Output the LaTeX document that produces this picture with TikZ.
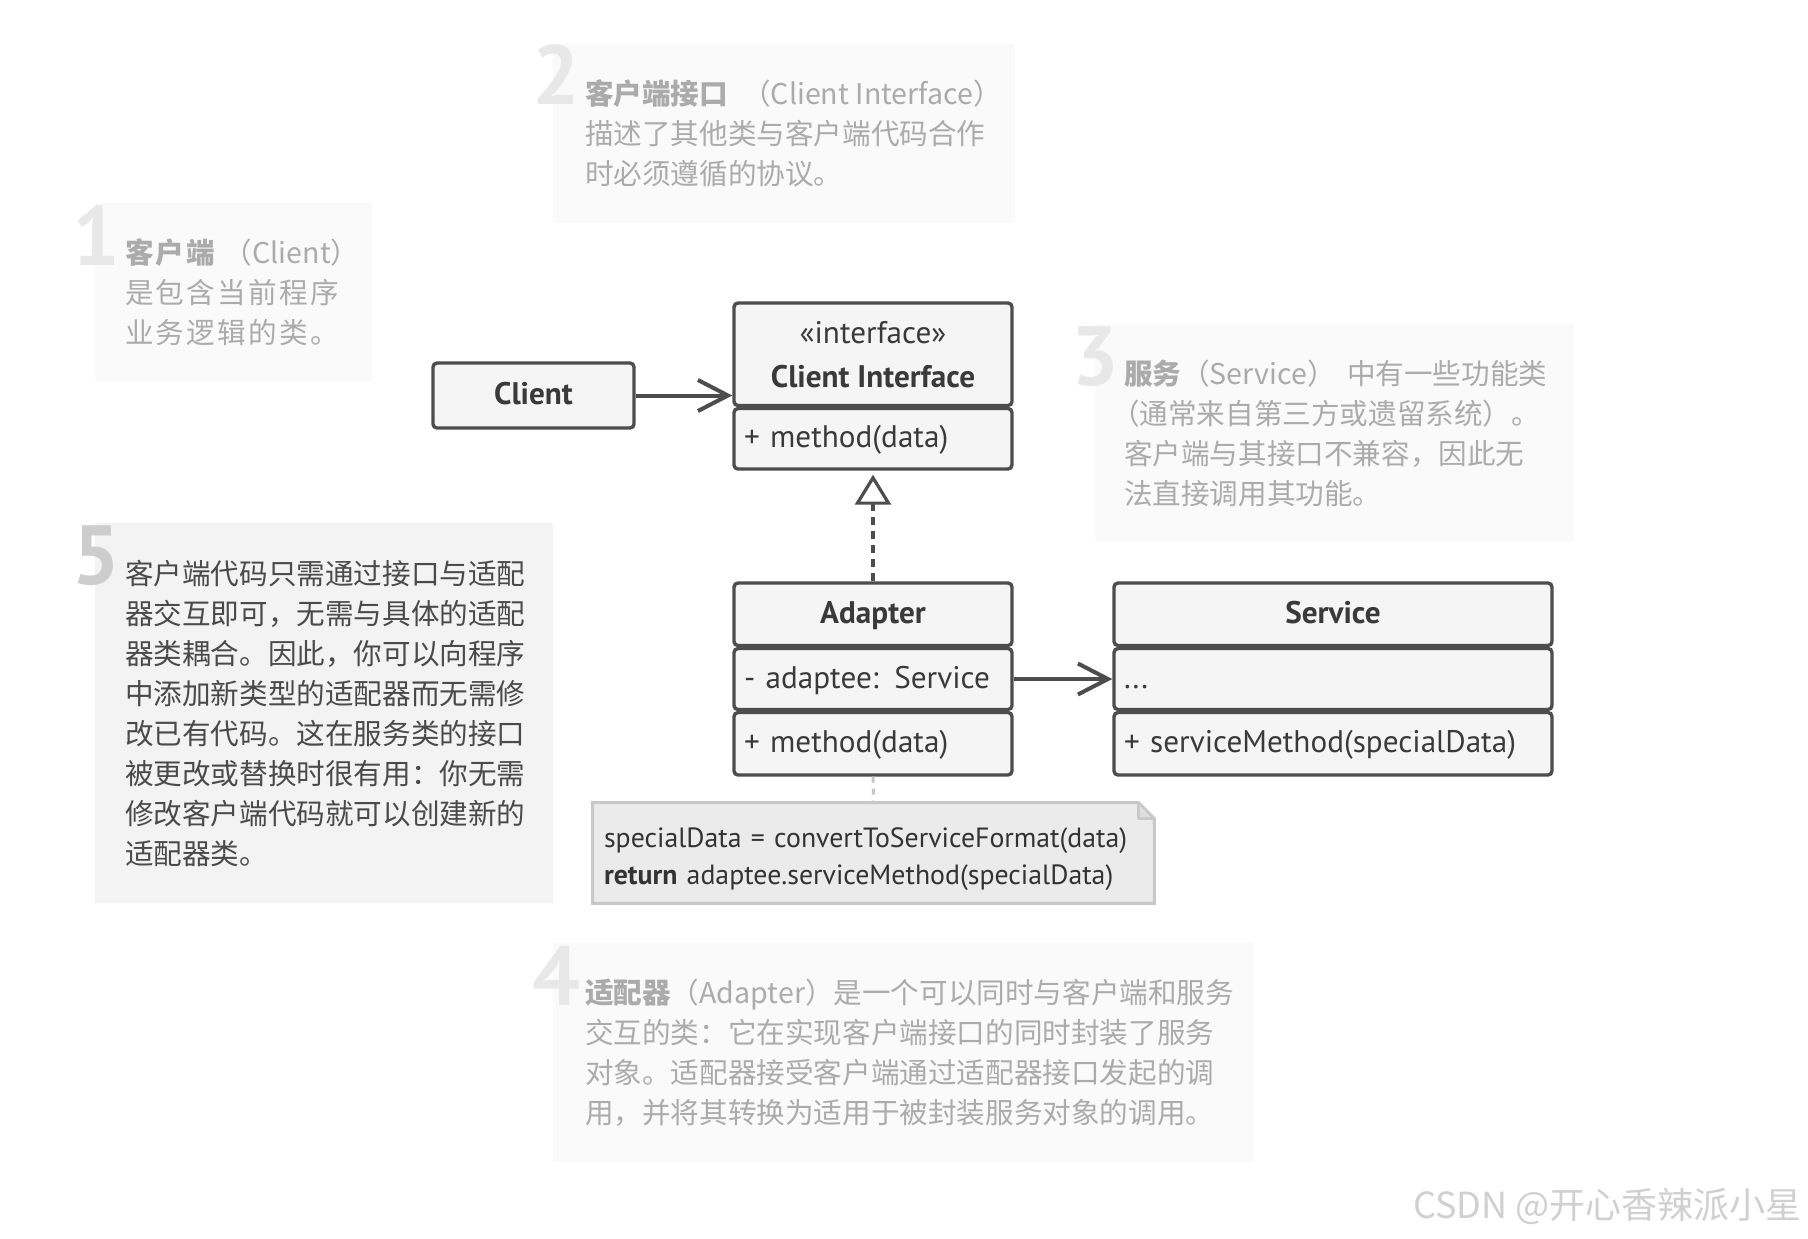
\documentclass[tikz,border=0pt]{standalone}
\usepackage{fontspec}
\setmainfont{PT Sans}
\newfontfamily\cjk{Noto Sans CJK SC}
\newfontfamily\cjksp{Noto Sans CJK SC}[LetterSpace=8]
\usetikzlibrary{arrows.meta,calc}
\pgfdeclarelayer{bgwhite}
\pgfdeclarelayer{bg}
\pgfsetlayers{bgwhite,bg,main}
\definecolor{umlline}{HTML}{4D4D4D}
\definecolor{umlfill}{HTML}{F5F5F5}
\definecolor{umltext}{HTML}{3A3A3A}
\definecolor{fadebg}{HTML}{FAFAFA}
\definecolor{fadetext}{HTML}{ABABAB}
\definecolor{fadedigit}{HTML}{E8E8E8}
\definecolor{activebg}{HTML}{F3F3F3}
\definecolor{activetext}{HTML}{4A4A4A}
\definecolor{activedigit}{HTML}{CDCDCD}
\definecolor{codebg}{HTML}{EBEBEB}
\definecolor{codeline}{HTML}{C8C8C8}
\definecolor{codetext}{HTML}{333333}
\definecolor{wmark}{HTML}{D0D0D0}
\tikzset{
  comp/.style={draw=umlline, fill=umlfill, line width=1.7pt, rounded corners=2pt,
    inner sep=0pt, text=umltext, font=\fontsize{15.6}{22}\selectfont},
  oneline/.style={text height=0.9em, text depth=0em},
  compl/.style={comp, oneline, align=left, inner xsep=5pt},
  fadebox/.style={fill=fadebg, inner sep=0pt},
  activebox/.style={fill=activebg, inner sep=0pt},
  fadetxt/.style={text=fadetext, align=left, inner sep=0pt, anchor=west,
    font=\cjk\fontsize{14.3}{20}\selectfont},
  activetxt/.style={fadetxt, text=activetext},
  digitlbl/.style={anchor=base east, inner sep=0pt, font=\bfseries\fontsize{42}{42}\selectfont},
  assoc/.style={draw=umlline, line width=2pt, -{Straight Barb[length=15pt,width=15.5pt,line width=2pt]}},
  realize/.style={draw=umlline, line width=1.6pt, dash pattern=on 4pt off 3pt,
    -{Triangle[open,fill=white,length=15pt,width=18pt,line width=1.6pt]}, shorten >=2pt},
  notelink/.style={draw=codeline, line width=1.5pt, dash pattern=on 3pt off 3pt},
}
\begin{document}
\begin{tikzpicture}[x=0.5pt,y=-0.5pt]
\useasboundingbox (0,0) rectangle (1808,1238);
\begin{pgfonlayer}{bgwhite}
\fill[white] (0,0) rectangle (1808,1238);
\end{pgfonlayer}

% ---------- note boxes ----------
\node[fadebox, minimum width=138.5pt, minimum height=89.5pt] (nb1) at (233.5,292.5) {};
\node[fadebox, minimum width=231pt, minimum height=89.5pt] (nb2) at (784,133.5) {};
\node[fadebox, minimum width=239.5pt, minimum height=109pt] (nb3) at (1334.5,433) {};
\node[activebox, minimum width=229pt, minimum height=190pt] (nb5) at (324,713) {};
\node[fadebox, minimum width=350pt, minimum height=109.5pt] (nb4) at (903,1052.5) {};

\node[fadetxt, font=\cjksp\fontsize{14.3}{20}\selectfont] (t1) at ([xshift=15pt]nb1.west)
  {{\bfseries 客户端}\kern0.3em{\cjk（Client）}\\是包含当前程序\\业务逻辑的类。};
\node[fadetxt] (t2) at ([xshift=16pt]nb2.west)
  {{\bfseries 客户端接口}\kern0.5em（Client Interface）\\描述了其他类与客户端代码合作\\时必须遵循的协议。};
\node[fadetxt] (t3) at ([xshift=14.5pt]nb3.west)
  {{\bfseries 服务}（Service）\kern0.4em 中有一些功能类\\\kern-0.45em（通常来自第三方或遗留系统）。\\客户端与其接口不兼容，因此无\\法直接调用其功能。};
\node[activetxt] (t5) at ([xshift=15pt]nb5.west)
  {客户端代码只需通过接口与适配\\器交互即可，无需与具体的适配\\器类耦合。因此，你可以向程序\\中添加新类型的适配器而无需修\\改已有代码。这在服务类的接口\\被更改或替换时很有用：你无需\\修改客户端代码就可以创建新的\\适配器类。};
\node[fadetxt] (t4) at ([xshift=16pt]nb4.west)
  {{\bfseries 适配器}（Adapter）是一个可以同时与客户端和服务\\交互的类：它在实现客户端接口的同时封装了服务\\对象。适配器接受客户端通过适配器接口发起的调\\用，并将其转换为适用于被封装服务对象的调用。};

\node[digitlbl, text=fadedigit] (d1) at (121,265) {1};
\node[digitlbl, text=fadedigit] (d2) at (581,104) {2};
\node[digitlbl, text=fadedigit] (d3) at (1120,385) {3};
\node[digitlbl, text=activedigit] (d5) at (121,584) {5};
\node[digitlbl, text=fadedigit] (d4) at (581,1005) {4};

% ---------- UML classes ----------
\node[comp, oneline, minimum width=100.5pt, minimum height=32.5pt, font=\bfseries\fontsize{15.6}{22}\selectfont] (client) at (533.5,395.5) {Client};

\node[comp, minimum width=139pt, minimum height=51.25pt, align=center] (cihead) at (873,354.25)
  {«interface»\\\textbf{Client Interface}};
\node[compl, minimum width=139pt, minimum height=30.25pt, text width=129pt] (cimeth) at (873,438.75) {+ method(data)};

\node[comp, oneline, minimum width=139pt, minimum height=31.25pt, font=\bfseries\fontsize{15.6}{22}\selectfont] (ahead) at (873,614.25) {Adapter};
\node[compl, minimum width=139pt, minimum height=30.5pt, text width=129pt] (aattr) at (873,679) {- adaptee: Service};
\node[compl, minimum width=139pt, minimum height=31.25pt, text width=129pt] (ameth) at (873,743.75) {+ method(data)};

\node[comp, oneline, minimum width=219pt, minimum height=31.25pt, font=\bfseries\fontsize{15.6}{22}\selectfont] (shead) at (1333,614.25) {Service};
\node[compl, minimum width=219pt, minimum height=30.5pt, text width=209pt] (sattr) at (1333,679) {...};
\node[compl, minimum width=219pt, minimum height=31.25pt, text width=209pt] (smeth) at (1333,743.75) {+ serviceMethod(specialData)};

% ---------- code note ----------
\node[inner xsep=5.5pt, inner ysep=0pt, minimum width=280.5pt, minimum height=50pt, text width=269.5pt,
  align=left, text=codetext, font=\fontsize{13.9}{18.5}\selectfont] (code) at (873.5,853)
  {\rule{0pt}{15.6pt}specialData = convertToServiceFormat(data)\\\textbf{return} adaptee.serviceMethod(specialData)};
\begin{pgfonlayer}{bg}
\filldraw[fill=codebg, draw=codeline, line width=1.5pt]
  (code.north west) -- ([xshift=-8pt]code.north east) -- ([yshift=-8pt]code.north east)
  -- (code.south east) -- (code.south west) -- cycle;
\end{pgfonlayer}
\filldraw[fill=codeline!60, draw=codeline, line width=1.2pt, line join=round]
  ([xshift=-8pt]code.north east) -- ([xshift=-8pt,yshift=-8pt]code.north east) -- ([yshift=-8pt]code.north east) -- cycle;

% ---------- connectors ----------
\draw[assoc] (client.east) -- (client.east -| cihead.west);
\draw[assoc] (aattr.east) -- (sattr.west);
\draw[realize] (ahead.north) -- (cimeth.south);
\draw[notelink] (ameth.south) -- (code.north);

% ---------- watermark ----------
\node[anchor=base east, inner sep=0pt, text=wmark, font=\cjk\fontsize{18}{18}\selectfont] (wm) at (1802,1218) {CSDN @开心香辣派小星};
\end{tikzpicture}
\end{document}
